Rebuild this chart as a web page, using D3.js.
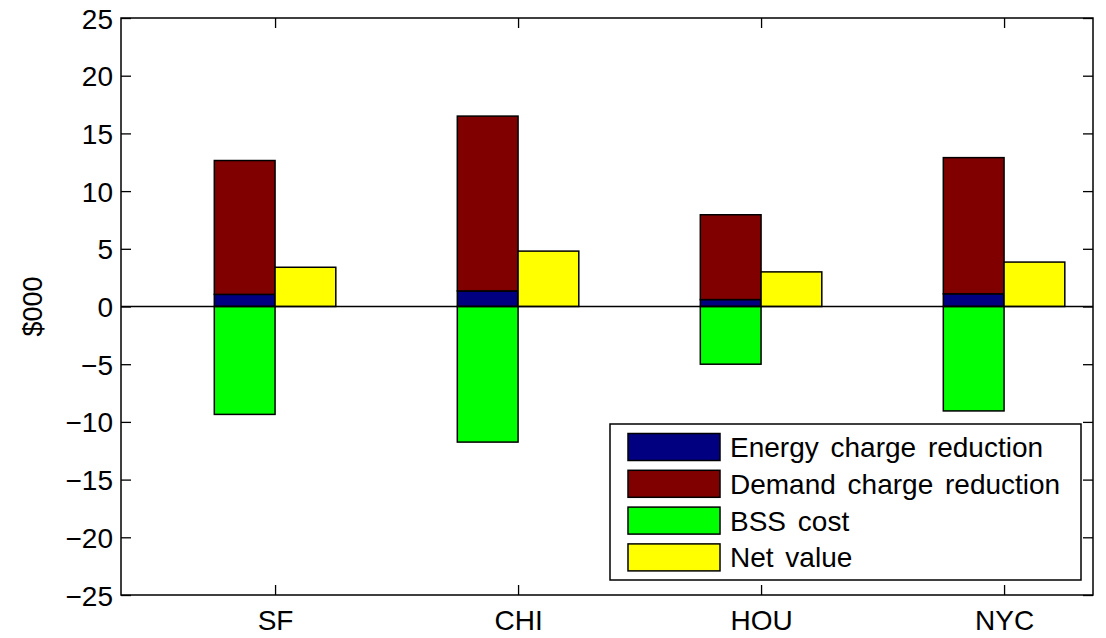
<!DOCTYPE html>
<html>
<head>
<meta charset="utf-8">
<script src="https://cdn.jsdelivr.net/npm/d3@7"></script>
<style>
  html, body { margin: 0; padding: 0; background: #fff; }
  svg { display: block; }
  text { font-family: "Liberation Sans", Arial, Helvetica, sans-serif; fill: #000; }
</style>
</head>
<body>
<svg id="chart" width="1106" height="638"></svg>
<script>
// Cities compared
const categories = ["SF", "CHI", "HOU", "NYC"];
// Annual values, thousands of dollars
const energyReduction = [1.05, 1.35, 0.6, 1.1];
const demandReduction = [11.6, 15.15, 7.35, 11.8];
const bssCost = [-9.35, -11.75, -5.0, -9.05];
const netValue = [3.4, 4.8, 3.0, 3.85];
const yTicks = [-25, -20, -15, -10, -5, 0, 5, 10, 15, 20, 25];

const seriesNames = ["Energy charge reduction", "Demand charge reduction", "BSS cost", "Net value"];
const colors = ["#000080", "#800000", "#00ff00", "#ffff00"];

const svg = d3.select("#chart");
const plot = { left: 121, right: 1093, top: 18, bottom: 595 };

const x = d3.scaleLinear().domain([0.366, 4.366]).range([plot.left, plot.right]);
const y = d3.scaleLinear().domain([-25, 25]).range([plot.bottom, plot.top]);
const barW = 0.25;

const rows = categories.map((c, i) => ({
  c, i, pos: i + 1,
  energy: energyReduction[i], demand: demandReduction[i], bss: bssCost[i], net: netValue[i]
}));

const g = svg.append("g");

// Stacked savings bars + cost bar (left of each tick), net value bar (right)
function rect(x0, x1, v0, v1, fill) {
  g.append("rect")
    .attr("x", x(x0)).attr("width", x(x1) - x(x0))
    .attr("y", y(Math.max(v0, v1))).attr("height", Math.abs(y(v0) - y(v1)))
    .attr("fill", fill).attr("stroke", "#000").attr("stroke-width", 1.5);
}
rows.forEach(d => {
  rect(d.pos - barW, d.pos, 0, d.energy, colors[0]);
  rect(d.pos - barW, d.pos, d.energy, d.energy + d.demand, colors[1]);
  rect(d.pos - barW, d.pos, 0, d.bss, colors[2]);
  rect(d.pos, d.pos + barW, 0, d.net, colors[3]);
});

// Zero baseline
g.append("line")
  .attr("x1", plot.left).attr("x2", plot.right)
  .attr("y1", y(0)).attr("y2", y(0))
  .attr("stroke", "#000").attr("stroke-width", 1.5);

// Axes with inward ticks on all four sides
const tickLen = 10;
const xTickVals = rows.map(d => d.pos);
const axisLeft = d3.axisLeft(y).tickValues(yTicks).tickSizeInner(-tickLen).tickSizeOuter(0)
  .tickPadding(8).tickFormat(d => d < 0 ? "\u2212" + Math.abs(d) : d);
const axisRight = d3.axisRight(y).tickValues(yTicks).tickSizeInner(-tickLen).tickSizeOuter(0).tickFormat("");
const axisBottom = d3.axisBottom(x).tickValues(xTickVals).tickSizeInner(-tickLen).tickSizeOuter(0)
  .tickPadding(15).tickFormat((d, i) => categories[i]);
const axisTop = d3.axisTop(x).tickValues(xTickVals).tickSizeInner(-tickLen).tickSizeOuter(0).tickFormat("");

function styleAxis(sel) {
  sel.select(".domain").remove();
  sel.selectAll(".tick line").attr("stroke", "#000").attr("stroke-width", 1.3);
  sel.selectAll("text").style("font-size", "28px").attr("fill", "#000");
}
svg.append("g").attr("transform", `translate(${plot.left},0)`).call(axisLeft).call(styleAxis)
  .selectAll("text").attr("dy", "0.36em");
svg.append("g").attr("transform", `translate(${plot.right},0)`).call(axisRight).call(styleAxis);
svg.append("g").attr("transform", `translate(0,${plot.bottom})`).call(axisBottom).call(styleAxis)
  .selectAll("text").attr("dy", "0.71em");
svg.append("g").attr("transform", `translate(0,${plot.top})`).call(axisTop).call(styleAxis);

// Frame
svg.append("rect")
  .attr("x", plot.left).attr("y", plot.top)
  .attr("width", plot.right - plot.left).attr("height", plot.bottom - plot.top)
  .attr("fill", "none").attr("stroke", "#000").attr("stroke-width", 1.5);

// Y axis title
svg.append("text")
  .attr("transform", `translate(42,${(plot.top + plot.bottom) / 2}) rotate(-90)`)
  .attr("text-anchor", "middle")
  .style("font-size", "27px")
  .text("$000");

// Legend
const leg = svg.append("g").attr("transform", "translate(610,424)");
leg.append("rect").attr("width", 471).attr("height", 156)
  .attr("fill", "#fff").attr("stroke", "#000").attr("stroke-width", 1.5);
seriesNames.forEach((name, i) => {
  const cy = 23 + i * 36.8;
  leg.append("rect").attr("x", 18).attr("y", cy - 13.5).attr("width", 92).attr("height", 27)
    .attr("fill", colors[i]).attr("stroke", "#000").attr("stroke-width", 1.5);
  leg.append("text").attr("x", 120).attr("y", cy).attr("dy", "0.36em")
    .style("font-size", "28px").style("word-spacing", "4px")
    .text(name);
});
</script>
</body>
</html>
